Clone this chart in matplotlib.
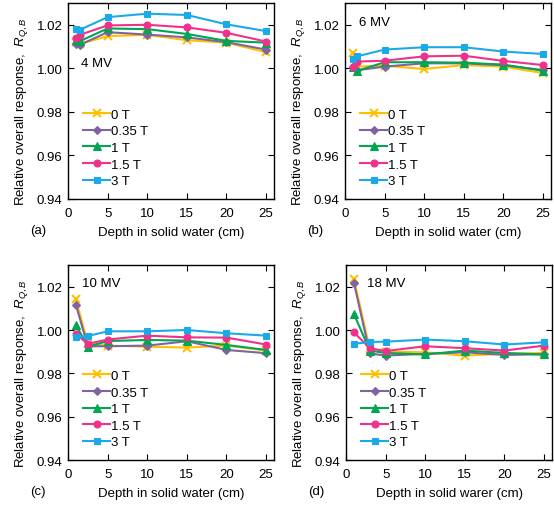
import matplotlib
matplotlib.use("Agg")
import matplotlib.pyplot as plt

plt.rcParams['font.family'] = ['Liberation Sans', 'DejaVu Sans']
plt.rcParams['mathtext.fontset'] = 'custom'
plt.rcParams['mathtext.rm'] = 'Liberation Sans'
plt.rcParams['mathtext.it'] = 'Liberation Sans:italic'

series_labels = ["0 T", "0.35 T", "1 T", "1.5 T", "3 T"]
colors = ["#FFC000", "#8064A2", "#00A651", "#F0318C", "#1CA9E8"]
markers = ["x", "D", "^", "o", "s"]
msizes = [6, 4, 5.5, 5, 5]

# Panel (a) 4 MV
x_a = [1, 1.5, 5, 10, 15, 20, 25]
a_vals = [
    [1.0123, 1.0112, 1.0148, 1.0154, 1.0129, 1.0118, 1.0074],
    [1.0112, 1.0108, 1.0166, 1.0155, 1.0142, 1.0120, 1.0086],
    [1.0131, 1.0125, 1.0183, 1.0180, 1.0158, 1.0126, 1.0118],
    [1.0138, 1.0154, 1.0197, 1.0200, 1.0188, 1.0163, 1.0123],
    [1.0182, 1.0177, 1.0235, 1.0251, 1.0245, 1.0202, 1.0171],
]
# Panel (b) 6 MV
x_b = [1, 1.5, 5, 10, 15, 20, 25]
b_vals = [
    [1.0069, 1.0008, 1.0012, 0.9997, 1.0015, 1.0008, 0.9978],
    [1.0008, 0.9991, 1.0008, 1.0023, 1.0023, 1.0014, 0.9992],
    [1.0008, 0.9988, 1.0028, 1.0028, 1.0026, 1.0017, 0.9989],
    [1.0005, 1.0031, 1.0035, 1.0055, 1.0058, 1.0034, 1.0015],
    [1.0043, 1.0055, 1.0086, 1.0097, 1.0097, 1.0077, 1.0066],
]
# Panel (c) 10 MV
x_c = [1, 2.5, 5, 10, 15, 20, 25]
c_vals = [
    [1.0143, 0.9936, 0.9928, 0.9923, 0.9919, 0.9928, 0.9905],
    [1.0116, 0.9925, 0.9925, 0.9928, 0.9948, 0.9908, 0.9893],
    [1.0023, 0.9923, 0.9949, 0.9954, 0.9951, 0.9931, 0.9908],
    [0.9982, 0.9936, 0.9956, 0.9974, 0.9966, 0.9965, 0.9933],
    [0.9966, 0.9972, 0.9994, 0.9994, 1.0000, 0.9985, 0.9974],
]
# Panel (d) 18 MV
x_d = [1, 3, 5, 10, 15, 20, 25]
d_vals = [
    [1.0235, 0.9913, 0.9900, 0.9897, 0.9882, 0.9890, 0.9894],
    [1.0218, 0.9892, 0.9882, 0.9890, 0.9897, 0.9885, 0.9888],
    [1.0074, 0.9905, 0.9894, 0.9887, 0.9905, 0.9894, 0.9887],
    [0.9989, 0.9916, 0.9903, 0.9925, 0.9916, 0.9905, 0.9928],
    [0.9936, 0.9945, 0.9946, 0.9956, 0.9948, 0.9933, 0.9943],
]

panels = [
    dict(x=x_a, v=a_vals, energy="4 MV", tag="(a)", xlabel="Depth in solid water (cm)", etxt=(1.6, 1.0025)),
    dict(x=x_b, v=b_vals, energy="6 MV", tag="(b)", xlabel="Depth in solid water (cm)", etxt=(1.8, 1.0215)),
    dict(x=x_c, v=c_vals, energy="10 MV", tag="(c)", xlabel="Depth in solid water (cm)", etxt=(1.8, 1.0215)),
    dict(x=x_d, v=d_vals, energy="18 MV", tag="(d)", xlabel="Depth in solid warer (cm)", etxt=(2.6, 1.0215)),
]

W, H = 554, 506
fig = plt.figure(figsize=(W / 100, H / 100), dpi=100)
rects = [(68, 4, 274, 200), (345, 4, 551, 200), (68, 266, 274, 461), (346, 266, 552, 461)]

fs = 9.5
for p, (l, t, r, b) in zip(panels, rects):
    ax = fig.add_axes([l / W, 1 - b / H, (r - l) / W, (b - t) / H])
    for vals, lab, c, m, ms in zip(p["v"], series_labels, colors, markers, msizes):
        ax.plot(p["x"], vals, color=c, marker=m, markersize=ms, lw=1.5, label=lab,
                markeredgewidth=1.5 if m == "x" else 0.8)
    ax.set_xlim(0, 26)
    ax.set_ylim(0.94, 1.03)
    ax.set_xticks([0, 5, 10, 15, 20, 25])
    ax.set_yticks([0.94, 0.96, 0.98, 1.00, 1.02])
    ax.set_yticklabels(["0.94", "0.96", "0.98", "1.00", "1.02"])
    ax.tick_params(axis="both", direction="in", top=True, right=True, labelsize=fs, length=4, width=0.8)
    ax.tick_params(axis="x", pad=6)
    ax.tick_params(axis="y", pad=4)
    for s in ax.spines.values():
        s.set_linewidth(1.0)
    ax.set_ylabel("Relative overall response,  $R_{Q,B}$", fontsize=fs)
    ax.yaxis.set_label_coords(-0.185, 0.45)
    ax.set_xlabel(p["xlabel"], fontsize=fs, labelpad=5)
    ax.text(p["etxt"][0], p["etxt"][1], p["energy"], fontsize=fs, va="center", ha="left")
    ax.text(-0.185, -0.16, p["tag"], transform=ax.transAxes, fontsize=fs, va="center", ha="left")
    ax.legend(loc="lower left", bbox_to_anchor=(0.075, 0.06), frameon=False, fontsize=fs,
              handlelength=2.0, handletextpad=0.1, labelspacing=0.33, borderaxespad=0.0,
              borderpad=0.0)

fig.savefig("out.png", dpi=100)
